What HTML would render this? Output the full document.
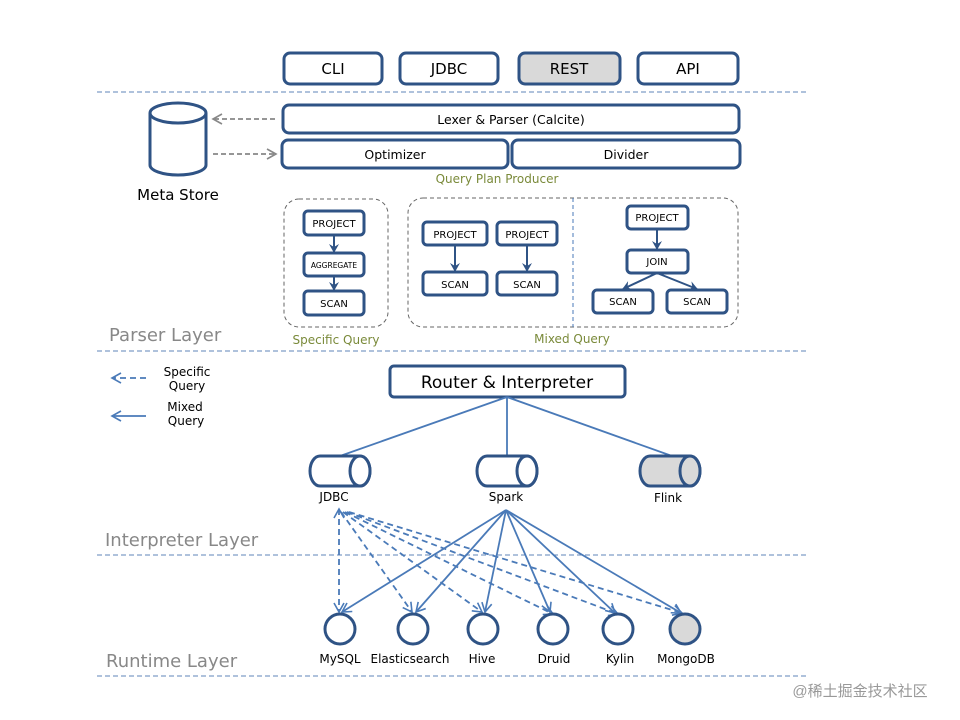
<!DOCTYPE html>
<html><head><meta charset="utf-8"><style>
html,body{margin:0;padding:0;background:#fff;width:960px;height:720px;overflow:hidden}
svg{display:block;font-family:"DejaVu Sans","Liberation Sans",sans-serif}
</style></head><body>
<svg width="960" height="720" viewBox="0 0 960 720" xmlns="http://www.w3.org/2000/svg">
<defs>
<marker id="ab" markerWidth="10" markerHeight="10" refX="8" refY="5" orient="auto" markerUnits="userSpaceOnUse"><path d="M0,0 L9,5 L0,10 L3,5 Z" fill="#2f5385"/></marker>
<marker id="al" markerWidth="12" markerHeight="12" refX="10" refY="6" orient="auto" markerUnits="userSpaceOnUse"><path d="M1,1 L10,6 L1,11" fill="none" stroke="#4a7ab8" stroke-width="1.6"/></marker>
<marker id="als" markerWidth="12" markerHeight="12" refX="10" refY="6" orient="auto-start-reverse" markerUnits="userSpaceOnUse"><path d="M1,1 L10,6 L1,11" fill="none" stroke="#4a7ab8" stroke-width="1.6"/></marker>
<marker id="ag" markerWidth="12" markerHeight="12" refX="10" refY="6" orient="auto" markerUnits="userSpaceOnUse"><path d="M1,1 L10,6 L1,11" fill="none" stroke="#888" stroke-width="1.6"/></marker>
</defs>
<g fill="none" stroke="#5f86b8" stroke-dasharray="5,3" stroke-width="1">
<line x1="97" y1="92" x2="808" y2="92"/><line x1="97" y1="351" x2="808" y2="351"/>
<line x1="97" y1="555" x2="808" y2="555"/><line x1="97" y1="676" x2="808" y2="676"/>
</g>
<g stroke="#2f5385" stroke-width="3" fill="#fff">
<rect x="284" y="53" width="98" height="31" rx="6"/><rect x="400" y="53" width="98" height="31" rx="6"/>
<rect x="519" y="53" width="101" height="31" rx="6" fill="#d9d9d9"/><rect x="638" y="53" width="100" height="31" rx="6"/>
<rect x="283" y="105" width="456" height="28" rx="6"/>
<rect x="282" y="140" width="226" height="28" rx="6"/><rect x="512" y="140" width="228" height="28" rx="6"/>
<path d="M150,113 L150,165 A28,10 0 0 0 206,165 L206,113"/><ellipse cx="178" cy="113" rx="28" ry="10"/>
</g>
<g font-size="15" fill="#000" text-anchor="middle">
<text x="333" y="74">CLI</text><text x="449" y="74">JDBC</text><text x="569" y="74">REST</text><text x="688" y="74">API</text>
<text x="178" y="200">Meta Store</text>
</g>
<g font-size="12.5" text-anchor="middle"><text x="511" y="124">Lexer &amp; Parser (Calcite)</text><text x="395" y="159">Optimizer</text><text x="626" y="159">Divider</text></g>
<g stroke="#888" stroke-width="1.8" stroke-dasharray="5,3">
<line x1="275" y1="119" x2="213" y2="119" marker-end="url(#ag)"/><line x1="213" y1="154" x2="276" y2="154" marker-end="url(#ag)"/>
</g>
<text x="497" y="183" font-size="12" fill="#7a8a3a" text-anchor="middle">Query Plan Producer</text>
<g fill="none" stroke="#666" stroke-dasharray="4,3" stroke-width="1">
<rect x="284" y="199" width="104" height="128" rx="15"/><rect x="408" y="198" width="330" height="129" rx="15"/>
<line x1="573" y1="198" x2="573" y2="327" stroke="#4a7ab8"/>
</g>
<g stroke="#2f5385" stroke-width="2" fill="none">
<line x1="334" y1="235" x2="334" y2="252" marker-end="url(#ab)"/><line x1="334" y1="276" x2="334" y2="290" marker-end="url(#ab)"/>
<line x1="455" y1="245" x2="455" y2="271" marker-end="url(#ab)"/><line x1="527" y1="245" x2="527" y2="271" marker-end="url(#ab)"/>
<line x1="657" y1="229" x2="657" y2="249" marker-end="url(#ab)"/>
<line x1="657" y1="273" x2="623" y2="289" marker-end="url(#ab)"/><line x1="657" y1="273" x2="697" y2="289" marker-end="url(#ab)"/>
</g>
<g stroke="#2f5385" stroke-width="3" fill="#fff">
<rect x="304" y="211" width="60" height="24" rx="4"/><rect x="304" y="253" width="60" height="23" rx="4"/><rect x="304" y="291" width="60" height="24" rx="4"/>
<rect x="423" y="222" width="64" height="23" rx="4"/><rect x="497" y="222" width="60" height="23" rx="4"/>
<rect x="423" y="272" width="64" height="23" rx="4"/><rect x="497" y="272" width="60" height="23" rx="4"/>
<rect x="627" y="206" width="61" height="23" rx="4"/><rect x="627" y="250" width="61" height="23" rx="4"/>
<rect x="593" y="290" width="60" height="23" rx="4"/><rect x="667" y="290" width="60" height="23" rx="4"/>
</g>
<g font-size="10" text-anchor="middle" fill="#000">
<text x="334" y="227">PROJECT</text><text x="334" y="268" font-size="7.5">AGGREGATE</text><text x="334" y="307">SCAN</text>
<text x="455" y="238">PROJECT</text><text x="527" y="238">PROJECT</text><text x="455" y="288">SCAN</text><text x="527" y="288">SCAN</text>
<text x="657" y="221">PROJECT</text><text x="657" y="265">JOIN</text><text x="623" y="305">SCAN</text><text x="697" y="305">SCAN</text>
</g>
<g font-size="12" fill="#7a8a3a" text-anchor="middle"><text x="336" y="344">Specific Query</text><text x="572" y="343">Mixed Query</text></g>
<g font-size="18" fill="#888"><text x="109" y="341">Parser Layer</text><text x="105" y="546">Interpreter Layer</text><text x="106" y="667">Runtime Layer</text></g>
<g stroke="#4a7ab8" stroke-width="1.8">
<line x1="146" y1="378" x2="112" y2="378" stroke-dasharray="6,4" marker-end="url(#al)"/>
<line x1="146" y1="416" x2="112" y2="416" marker-end="url(#al)"/>
</g>
<g font-size="12" text-anchor="middle"><text x="187" y="376">Specific</text><text x="187" y="390">Query</text><text x="185" y="411">Mixed</text><text x="186" y="425">Query</text></g>
<rect x="390" y="366" width="235" height="31" rx="4" fill="#fff" stroke="#2f5385" stroke-width="3"/>
<text x="507" y="388" font-size="17" text-anchor="middle">Router &amp; Interpreter</text>
<g stroke="#4a7ab8" stroke-width="1.8"><line x1="507" y1="397" x2="340" y2="456"/><line x1="507" y1="397" x2="507" y2="456"/><line x1="507" y1="397" x2="672" y2="456"/></g>
<g stroke="#2f5385" stroke-width="3" fill="#fff">
<path d="M320,456 L360,456 A10,15 0 0 1 360,486 L320,486 A10,15 0 0 1 320,456 Z"/><ellipse cx="360" cy="471" rx="10" ry="15"/>
<path d="M487,456 L527,456 A10,15 0 0 1 527,486 L487,486 A10,15 0 0 1 487,456 Z"/><ellipse cx="527" cy="471" rx="10" ry="15"/>
<path d="M650,456 L690,456 A10,15 0 0 1 690,486 L650,486 A10,15 0 0 1 650,456 Z" fill="#d9d9d9"/><ellipse cx="690" cy="471" rx="10" ry="15" fill="#d9d9d9"/>
</g>
<g font-size="12" text-anchor="middle"><text x="334" y="501">JDBC</text><text x="506" y="501">Spark</text><text x="668" y="502">Flink</text></g>
<g stroke="#4a7ab8" stroke-width="1.8" fill="none">
<line x1="506" y1="510" x2="342" y2="612" marker-end="url(#al)"/><line x1="506" y1="510" x2="416" y2="612" marker-end="url(#al)"/>
<line x1="506" y1="510" x2="485" y2="612" marker-end="url(#al)"/><line x1="506" y1="510" x2="550" y2="612" marker-end="url(#al)"/>
<line x1="506" y1="510" x2="615" y2="613" marker-end="url(#al)"/><line x1="506" y1="510" x2="681" y2="613" marker-end="url(#al)"/>
<g stroke-dasharray="6,4">
<line x1="339" y1="509" x2="339" y2="612" marker-end="url(#al)" marker-start="url(#als)"/>
<line x1="341" y1="512" x2="412" y2="612" marker-end="url(#al)"/>
<line x1="343" y1="512" x2="482" y2="612" marker-end="url(#al)"/>
<line x1="345" y1="512" x2="553" y2="614" marker-end="url(#al)"/>
<line x1="347" y1="512" x2="618" y2="614" marker-end="url(#al)"/>
<line x1="349" y1="512" x2="682" y2="613" marker-end="url(#al)"/>
</g>
</g>
<g stroke="#2f5385" stroke-width="3" fill="#fff">
<circle cx="340" cy="629" r="15"/><circle cx="413" cy="629" r="15"/><circle cx="483" cy="629" r="15"/>
<circle cx="553" cy="629" r="15"/><circle cx="618" cy="629" r="15"/><circle cx="685" cy="629" r="15" fill="#d9d9d9"/>
</g>
<g font-size="12" text-anchor="middle"><text x="340" y="663">MySQL</text><text x="410" y="663">Elasticsearch</text><text x="482" y="663">Hive</text><text x="554" y="663">Druid</text><text x="620" y="663">Kylin</text><text x="686" y="663">MongoDB</text></g>
<text x="860" y="696" font-size="15" fill="#999" text-anchor="middle" font-family="'Liberation Sans','Noto Sans CJK SC',sans-serif">@稀土掘金技术社区</text>
</svg>
</body></html>
